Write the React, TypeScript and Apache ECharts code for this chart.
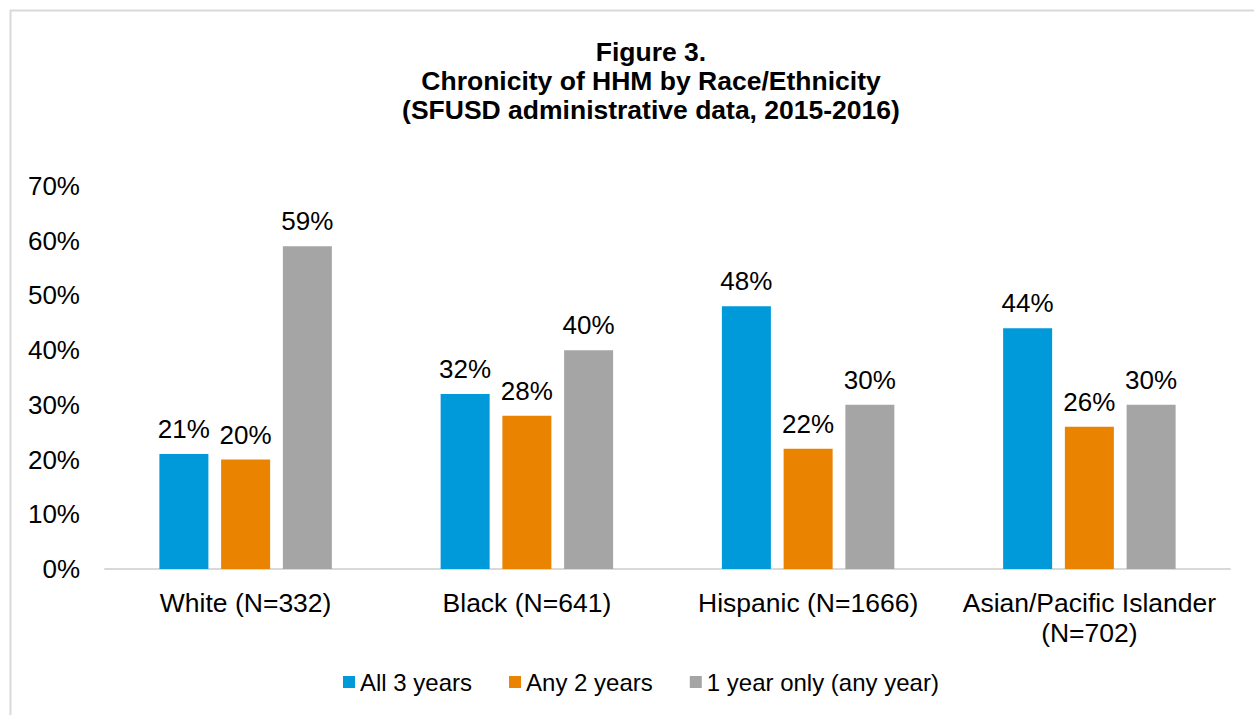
import React, { useEffect, useRef } from "react";
import * as echarts from "echarts";

const categories = ["White (N=332)", "Black (N=641)", "Hispanic (N=1666)", "Asian/Pacific Islander\n(N=702)"];
const seriesNames = ["All 3 years", "Any 2 years", "1 year only (any year)"];
const all3 = [21, 32, 48, 44];
const any2 = [20, 28, 22, 26];
const one = [59, 40, 30, 30];
const colors = ["#0099DA", "#E98300", "#A5A5A5"];
const yTicks = [0, 10, 20, 30, 40, 50, 60, 70];

export default function App() {
  const ref = useRef<HTMLDivElement>(null);
  useEffect(() => {
    const chart = echarts.init(ref.current!, null, { renderer: "svg" });
    const font = "Liberation Sans, Arial, sans-serif";
    const mk = (name: string, data: number[], color: string) => ({
      name,
      type: "bar",
      data,
      barWidth: 49,
      barGap: "26%",
      itemStyle: { color },
      label: {
        show: true,
        position: "top",
        distance: 12,
        formatter: "{c}%",
        color: "#000",
        fontSize: 26,
        fontFamily: font,
      },
    });
    chart.setOption({
      animation: false,
      backgroundColor: "#fff",
      textStyle: { fontFamily: font },
      title: {
        text: "Figure 3.\nChronicity of HHM by Race/Ethnicity\n(SFUSD administrative data, 2015-2016)",
        left: 646,
        top: 32,
        textAlign: "center",
        textStyle: { fontSize: 26.5, fontWeight: "bold", color: "#000", lineHeight: 29, fontFamily: font },
      },
      graphic: [
        {
          type: "rect",
          shape: { x: 10.5, y: 10.5, width: 1300, height: 800 },
          style: { fill: "none", stroke: "#D9D9D9", lineWidth: 2 },
          silent: true,
          z: -1,
        },
      ],
      legend: {
        data: seriesNames,
        bottom: 16,
        left: 338,
        itemWidth: 12,
        itemHeight: 12,
        itemGap: 37,
        icon: "rect",
        textStyle: { fontSize: 24, color: "#000", fontFamily: font, padding: [0, 0, 0, 0] },
      },
      grid: { left: 105, right: 24, top: 186, bottom: 146 },
      xAxis: {
        type: "category",
        data: categories,
        axisLine: { lineStyle: { color: "#D9D9D9", width: 2 } },
        axisTick: { show: false },
        axisLabel: { interval: 0, fontSize: 26.5, color: "#000", margin: 19, lineHeight: 30, fontFamily: font },
      },
      yAxis: {
        type: "value",
        min: yTicks[0],
        max: yTicks[yTicks.length - 1],
        interval: 10,
        splitLine: { show: false },
        axisLine: { show: false },
        axisTick: { show: false },
        axisLabel: { fontSize: 26, color: "#000", margin: 25, formatter: "{value}%", fontFamily: font },
      },
      series: [mk(seriesNames[0], all3, colors[0]), mk(seriesNames[1], any2, colors[1]), mk(seriesNames[2], one, colors[2])],
    });
    return () => chart.dispose();
  }, []);
  return <div ref={ref} style={{ position: "fixed", left: 0, top: 0, width: 1254, height: 715 }} />;
}
